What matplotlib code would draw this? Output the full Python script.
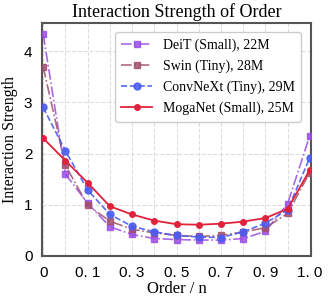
import matplotlib.pyplot as plt

# x positions are order indices, only every other one gets a label
orders = list(range(13))
tick_pos = [0, 2, 4, 6, 8, 10, 12]
tick_labels = ["0", "0. 1", "0. 3", "0. 5", "0. 7", "0. 9", "1. 0"]

deit = [4.33, 1.60, 1.03, 0.57, 0.42, 0.34, 0.32, 0.31, 0.31, 0.34, 0.48, 1.02, 2.35]
swin = [3.69, 1.77, 0.99, 0.68, 0.52, 0.45, 0.40, 0.38, 0.40, 0.47, 0.55, 0.83, 1.63]
convnext = [2.90, 2.05, 1.29, 0.81, 0.58, 0.47, 0.40, 0.37, 0.36, 0.47, 0.64, 0.90, 1.92]
moganet = [2.30, 1.86, 1.43, 0.97, 0.81, 0.69, 0.62, 0.61, 0.63, 0.67, 0.74, 0.92, 1.68]

serif = "Liberation Serif"
sans = "Liberation Sans"

fig = plt.figure(figsize=(3.29, 2.99), dpi=100)
ax = fig.add_axes([0.128, 0.144, 0.817, 0.779])

ax.plot(orders, deit, color="#9b4de6", linestyle="-.", marker="s", markersize=5,
        linewidth=1.2, alpha=0.85, label="DeiT (Small), 22M", zorder=3)
ax.plot(orders, swin, color="#a14f6c", linestyle="-.", marker="s", markersize=5,
        linewidth=1.2, alpha=0.85, label="Swin (Tiny), 28M", zorder=3)
ax.plot(orders, convnext, color="#4b5cf2", linestyle="--", marker="o", markersize=5,
        linewidth=1.2, alpha=0.9, label="ConvNeXt (Tiny), 29M", zorder=4)
ax.plot(orders, moganet, color="#e0223c", linestyle="-", marker="o", markersize=4,
        linewidth=1.3, label="MogaNet (Small), 25M", zorder=5)

ax.set_xlim(-0.05, 12.05)
ax.set_ylim(0, 4.55)
ax.set_xticks(orders, minor=True)
ax.set_xticks(tick_pos)
ax.set_xticklabels(tick_labels, fontfamily=sans, fontsize=11)
ax.set_yticks([0, 1, 2, 3, 4])
ax.set_yticklabels(["0", "1", "2", "3", "4"], fontfamily=sans, fontsize=11)
ax.tick_params(which="both", length=0, pad=7)

ax.grid(True, which="both", linestyle="--", color="#dddddd", linewidth=0.8)
ax.set_axisbelow(True)
for s in ax.spines.values():
    s.set_color("#555555")
    s.set_linewidth(1.5)

ax.set_title("Interaction Strength of Order", fontfamily=serif, fontsize=13, pad=4)
ax.set_xlabel("Order / n", fontfamily=serif, fontsize=12, labelpad=1)
ax.set_ylabel("Interaction Strength", fontfamily=serif, fontsize=11.5, labelpad=4)

ax.legend(loc="upper right", prop={"family": serif, "size": 10}, framealpha=1,
          edgecolor="#cccccc", handlelength=2.2, borderpad=0.45, labelspacing=0.55,
          bbox_to_anchor=(0.99, 0.99))

fig.savefig("out.png", dpi=100)
